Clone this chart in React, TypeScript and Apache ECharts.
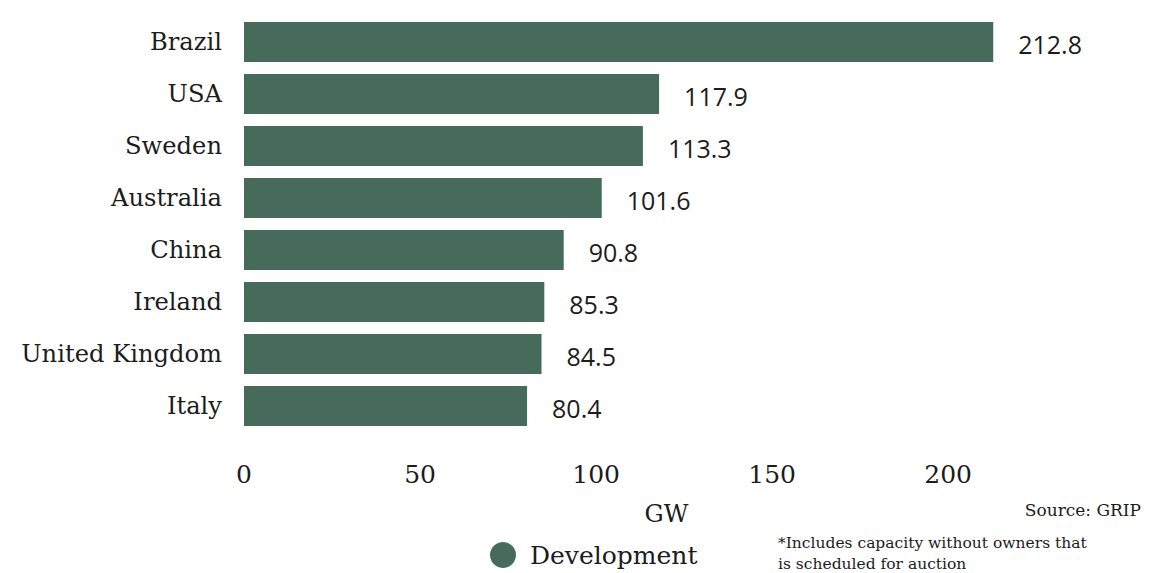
import React, { useEffect, useRef } from "react";
import * as echarts from "echarts";

const categories = ["Brazil", "USA", "Sweden", "Australia", "China", "Ireland", "United Kingdom", "Italy"];
const values = [212.8, 117.9, 113.3, 101.6, 90.8, 85.3, 84.5, 80.4];
const seriesName = "Development";
const axisName = "GW";
const sourceText = "Source: GRIP";
const footnoteLines = ["*Includes capacity without owners that", "is scheduled for auction"];

const BAR = "#476b5b";
const TXT = "#1c1c1c";

export default function App() {
  const ref = useRef<HTMLDivElement>(null);
  useEffect(() => {
    if (!ref.current) return;
    const chart = echarts.init(ref.current, null, { renderer: "svg" });
    chart.setOption({
      animation: false,
      grid: { left: 244, right: 77, top: 16, height: 416, containLabel: false },
      legend: {
        data: [seriesName],
        left: 490,
        top: 542,
        padding: 0,
        icon: "circle",
        itemWidth: 26,
        itemHeight: 26,
        textStyle: { fontFamily: "DejaVu Serif", fontSize: 25, color: TXT, padding: [0, 0, 0, 9] },
      },
      xAxis: {
        type: "value",
        min: 0,
        max: 240,
        interval: 50,
        name: axisName,
        nameLocation: "middle",
        nameGap: 70,
        nameTextStyle: { fontFamily: "DejaVu Serif", fontSize: 24, color: TXT },
        axisLine: { show: false },
        axisTick: { show: false },
        splitLine: { show: false },
        axisLabel: {
          margin: 30,
          fontFamily: "DejaVu Serif",
          fontSize: 25,
          color: TXT,
          formatter: (v: number) => (v % 50 === 0 ? String(v) : ""),
        },
      },
      yAxis: {
        type: "category",
        data: categories,
        inverse: true,
        axisLine: { show: false },
        axisTick: { show: false },
        axisLabel: { margin: 22, fontFamily: "DejaVu Serif", fontSize: 24.2, color: TXT },
      },
      series: [
        {
          name: seriesName,
          type: "bar",
          data: values,
          barCategoryGap: "23%",
          itemStyle: { color: BAR },
          label: {
            show: true,
            position: "right",
            distance: 25,
            offset: [0, 2],
            fontFamily: "Open Sans",
            fontSize: 25,
            color: TXT,
            formatter: (p: any) => p.value.toFixed(1),
          },
        },
      ],
      graphic: [
        {
          type: "text",
          right: 25,
          top: 501,
          style: { text: sourceText, fontFamily: "DejaVu Serif", fontSize: 17, fill: TXT },
        },
        {
          type: "text",
          left: 778,
          top: 532,
          style: {
            text: footnoteLines.join("\n"),
            fontFamily: "DejaVu Serif",
            fontSize: 15.5,
            lineHeight: 21,
            fill: TXT,
          },
        },
      ],
    });
    return () => chart.dispose();
  }, []);
  return <div ref={ref} style={{ width: 1166, height: 573, position: "absolute", left: 0, top: 0 }} />;
}
